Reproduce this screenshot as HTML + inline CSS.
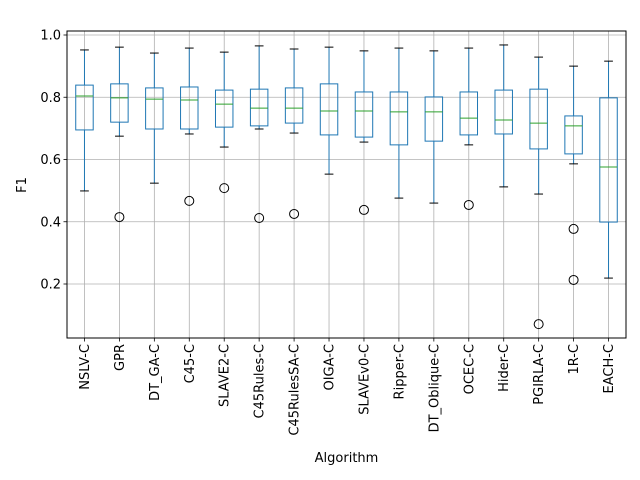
<!DOCTYPE html>
<html><head><meta charset="utf-8"><style>
html,body{margin:0;padding:0;background:#fff;}
svg{display:block;font-family:"DejaVu Sans","Liberation Sans",sans-serif;}
</style></head><body>
<svg id="chart" width="640" height="480" viewBox="0 0 640 480" xmlns="http://www.w3.org/2000/svg">
<rect x="0" y="0" width="640" height="480" fill="#fff"/>
<g id="grid"></g>
<g id="boxes"></g>
<rect x="67" y="31" width="559" height="307" fill="none" stroke="#000" stroke-width="1"/>
<g id="axes"></g>
<text x="346.5" y="462" font-size="13" text-anchor="middle">Algorithm</text>
<text transform="translate(26,185) rotate(-90)" font-size="13" text-anchor="middle">F1</text>
</svg>
<script>
const categories=["NSLV-C","GPR","DT_GA-C","C45-C","SLAVE2-C","C45Rules-C","C45RulesSA-C","OIGA-C","SLAVEv0-C","Ripper-C","DT_Oblique-C","OCEC-C","Hider-C","PGIRLA-C","1R-C","EACH-C"];
const whiskerHigh=[0.952,0.961,0.942,0.958,0.945,0.965,0.955,0.961,0.949,0.958,0.949,0.958,0.968,0.929,0.900,0.916];
const q3=[0.839,0.843,0.830,0.833,0.823,0.826,0.830,0.843,0.817,0.817,0.801,0.817,0.823,0.826,0.740,0.798];
const medians=[0.804,0.798,0.794,0.791,0.778,0.765,0.765,0.756,0.756,0.753,0.753,0.733,0.727,0.717,0.708,0.576];
const q1=[0.695,0.720,0.698,0.698,0.704,0.708,0.717,0.679,0.672,0.647,0.659,0.679,0.682,0.634,0.618,0.399];
const whiskerLow=[0.499,0.675,0.524,0.682,0.640,0.698,0.685,0.553,0.656,0.476,0.460,0.647,0.512,0.489,0.586,0.219];
const outliers=[[],[0.415],[],[0.467],[0.508],[0.412],[0.425],[],[0.438],[],[],[0.454],[],[0.071],[0.377,0.213],[]];
const yTicks=[0.2,0.4,0.6,0.8,1.0];
const yTickLabels=["0.2","0.4","0.6","0.8","1.0"];

const NS="http://www.w3.org/2000/svg";
const X0=67,X1=626,Y0=31,Y1=338;
const step=(X1-X0)/categories.length;
function xPos(i){return X0+step*(i+0.5);}
function yPos(v){return 35+(1-v)*311.25;}
function mk(tag,attrs,parent){const e=document.createElementNS(NS,tag);for(const k in attrs)e.setAttribute(k,attrs[k]);parent.appendChild(e);return e;}
const grid=document.getElementById('grid'),boxes=document.getElementById('boxes'),axes=document.getElementById('axes');
yTicks.forEach((t,i)=>{
  const y=yPos(t);
  const g=mk('line',{x1:X0,x2:X1,y1:y,y2:y,stroke:'#b0b0b0','stroke-width':0.8},grid);
  
  
  const tk=mk('line',{x1:X0-3.5,x2:X0,y1:y,y2:y,stroke:'#000','stroke-width':0.8},axes);
  
  
  const tx=mk('text',{x:X0-6,y:y+4.5,'font-size':13,'text-anchor':'end'},axes);
  tx.textContent=yTickLabels[i];
  
  
});
categories.forEach((c,i)=>{
  const x=xPos(i);
  const g=mk('line',{x1:x,x2:x,y1:Y0,y2:Y1,stroke:'#b0b0b0','stroke-width':0.8},grid);
  
  
  const tk=mk('line',{x1:x,x2:x,y1:Y1,y2:Y1+3.5,stroke:'#000','stroke-width':0.8},axes);
  
  
  const tx=mk('text',{transform:`translate(${x+4.5},${Y1+6}) rotate(-90)`,'font-size':13,'text-anchor':'end'},axes);
  tx.textContent=c;
  
  
  const grp=mk('g',{},boxes);
  
  
  const bw=step*0.25, cw=step*0.125;
  const col='#1f77b4';
  mk('line',{x1:x,x2:x,y1:yPos(q3[i]),y2:yPos(whiskerHigh[i]),stroke:col,'stroke-width':1},grp);
  mk('line',{x1:x,x2:x,y1:yPos(q1[i]),y2:yPos(whiskerLow[i]),stroke:col,'stroke-width':1},grp);
  mk('line',{x1:x-cw,x2:x+cw,y1:yPos(whiskerHigh[i]),y2:yPos(whiskerHigh[i]),stroke:'#000','stroke-width':1},grp);
  mk('line',{x1:x-cw,x2:x+cw,y1:yPos(whiskerLow[i]),y2:yPos(whiskerLow[i]),stroke:'#000','stroke-width':1},grp);
  mk('rect',{x:x-bw,y:yPos(q3[i]),width:2*bw,height:yPos(q1[i])-yPos(q3[i]),fill:'none',stroke:col,'stroke-width':1},grp);
  mk('line',{x1:x-bw,x2:x+bw,y1:yPos(medians[i]),y2:yPos(medians[i]),stroke:'#2ca02c','stroke-width':1},grp);
  outliers[i].forEach(o=>{
    const p=mk('circle',{cx:x,cy:yPos(o),r:4.5,fill:'none',stroke:'#000','stroke-width':1},grp);
    
    
  });
});
</script>
</body></html>
